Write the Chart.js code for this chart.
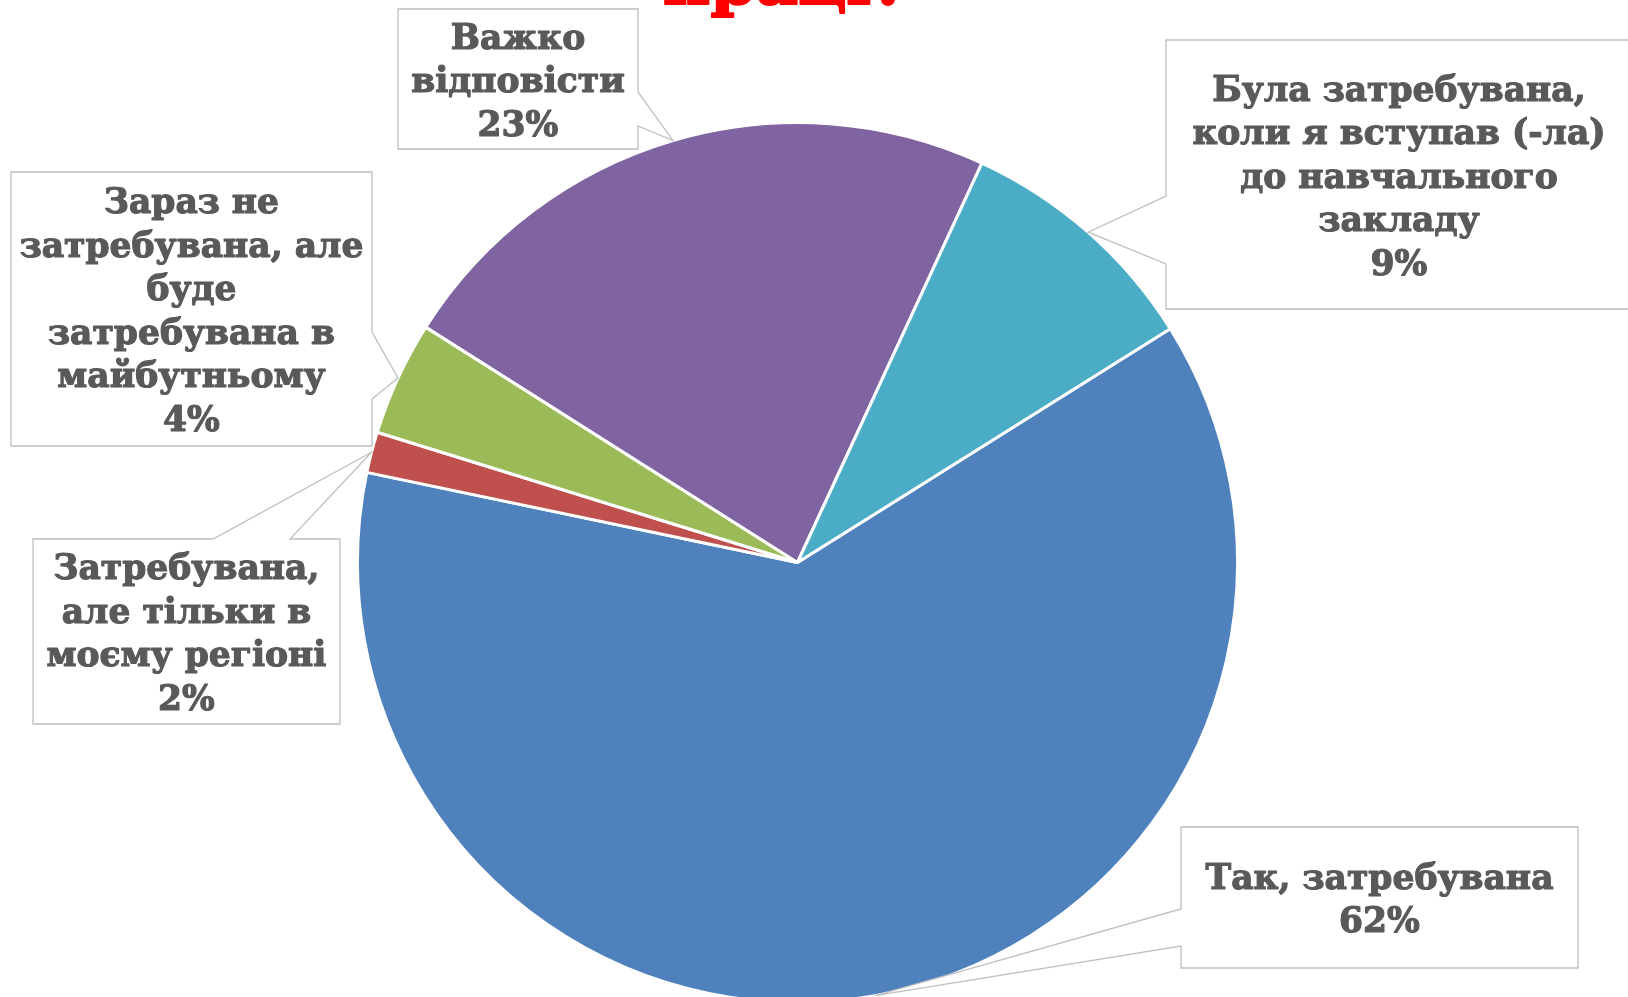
<!DOCTYPE html>
<html>
<head>
<meta charset="utf-8">
<script src="https://cdn.jsdelivr.net/npm/chart.js@4.4.1/dist/chart.umd.min.js"></script>
<style>
  html, body { margin: 0; padding: 0; background: #ffffff; overflow: hidden; width: 1628px; height: 997px; }
  #wrap { width: 1628px; height: 997px; position: relative; overflow: hidden; }
  canvas { display: block; }
</style>
</head>
<body>
<div id="wrap"><canvas id="c" width="1628" height="1010"></canvas></div>
<script>
// ---- data ----
const titleText = "праці?";
const categories = [
  "Так, затребувана",
  "Затребувана, але тільки в моєму регіоні",
  "Зараз не затребувана, але буде затребувана в майбутньому",
  "Важко відповісти",
  "Була затребувана, коли я вступав (-ла) до навчального закладу"
];
const values = [62.2, 1.5, 4.2, 22.9, 9.2];
const labelLines = [
  ["Так, затребувана"],
  ["Затребувана,", "але тільки в", "моєму регіоні"],
  ["Зараз не", "затребувана, але", "буде", "затребувана в", "майбутньому"],
  ["Важко", "відповісти"],
  ["Була затребувана,", "коли я вступав (-ла)", "до навчального", "закладу"]
];
const colors = ["#4F81BD", "#C0504D", "#9BBB59", "#8064A2", "#4BACC6"];

// ---- callout layout (box rectangles and wedge base on one side) ----
const calloutLayout = [
  { box: [1181, 827, 1578, 968], side: "left",  base: [909, 946] },
  { box: [33, 539, 340, 724],    side: "top",   base: [213, 290] },
  { box: [11, 172, 372, 446],    side: "right", base: [332, 399] },
  { box: [398, 9, 638, 149],     side: "right", base: [92, 126] },
  { box: [1166, 40, 1632, 309],  side: "left",  base: [196, 264] }
];

const FONT_FAMILY = '"DejaVu Serif", "Liberation Serif", serif';
const TEXT_COLOR = "#595959";
const FONT_SIZE = 36;
const LINE_H = 43.5;

function boldText(ctx, txt, x, y, w) {
  ctx.lineWidth = w;
  ctx.lineJoin = "round";
  ctx.strokeText(txt, x, y);
  ctx.fillText(txt, x, y);
}

const calloutPlugin = {
  id: "callouts",
  afterDraw(chart) {
    const ctx = chart.ctx;
    const meta = chart.getDatasetMeta(0);
    const total = values.reduce((a, b) => a + b, 0);
    ctx.save();
    ctx.font = "bold " + FONT_SIZE + "px " + FONT_FAMILY;
    const refW = ctx.measureText("Так, затребувана").width;
    const sx = 348 / refW;
    const capH = ctx.measureText("Н").actualBoundingBoxAscent;

    meta.data.forEach((arc, i) => {
      const p = arc.getProps(["x", "y", "startAngle", "endAngle", "outerRadius"], true);
      const mid = (p.startAngle + p.endAngle) / 2;
      const tx = p.x + Math.cos(mid) * p.outerRadius;
      const ty = p.y + Math.sin(mid) * p.outerRadius;
      const L = calloutLayout[i];
      const [x1, y1, x2, y2] = L.box;
      const [b1, b2] = L.base;

      ctx.beginPath();
      ctx.moveTo(x1, y1);
      if (L.side === "top") { ctx.lineTo(b1, y1); ctx.lineTo(tx, ty); ctx.lineTo(b2, y1); }
      ctx.lineTo(x2, y1);
      if (L.side === "right") { ctx.lineTo(x2, b1); ctx.lineTo(tx, ty); ctx.lineTo(x2, b2); }
      ctx.lineTo(x2, y2);
      ctx.lineTo(x1, y2);
      if (L.side === "left") { ctx.lineTo(x1, b2); ctx.lineTo(tx, ty); ctx.lineTo(x1, b1); }
      ctx.closePath();
      ctx.fillStyle = "#ffffff";
      ctx.fill();
      ctx.lineWidth = 1.3;
      ctx.lineJoin = "miter";
      ctx.strokeStyle = "#BFBFBF";
      ctx.stroke();

      const pct = Math.round(values[i] * 100 / total + 1e-9);
      const lines = labelLines[i].concat([pct + "%"]);
      const cx = (x1 + x2) / 2;
      const cy = (y1 + y2) / 2;
      ctx.fillStyle = TEXT_COLOR;
      ctx.strokeStyle = TEXT_COLOR;
      ctx.textAlign = "center";
      ctx.textBaseline = "alphabetic";
      lines.forEach((ln, k) => {
        const lc = cy + (k - (lines.length - 1) / 2) * LINE_H;
        ctx.save();
        ctx.translate(cx, lc + capH / 2);
        ctx.scale(sx, 1);
        boldText(ctx, ln, 0, 0, 1.2);
        ctx.restore();
      });
    });

    // partially visible title (cut off at top)
    ctx.font = "bold 64px " + FONT_FAMILY;
    const tw = ctx.measureText(titleText).width;
    ctx.fillStyle = "#FF0000";
    ctx.strokeStyle = "#FF0000";
    ctx.textAlign = "center";
    ctx.textBaseline = "alphabetic";
    ctx.save();
    ctx.translate(786, 4);
    ctx.scale(246 / tw, 1);
    boldText(ctx, titleText, 0, 0, 2);
    ctx.restore();
    ctx.restore();
  }
};

new Chart(document.getElementById("c"), {
  type: "pie",
  data: {
    labels: categories,
    datasets: [{
      data: values,
      backgroundColor: colors,
      borderColor: "#ffffff",
      borderWidth: 3
    }]
  },
  options: {
    responsive: false,
    animation: false,
    rotation: 57.9,
    layout: { padding: { left: 356, right: 389, top: 121, bottom: 6 } },
    plugins: {
      legend: { display: false },
      tooltip: { enabled: false },
      title: { display: false }
    }
  },
  plugins: [calloutPlugin]
});
</script>
</body>
</html>
